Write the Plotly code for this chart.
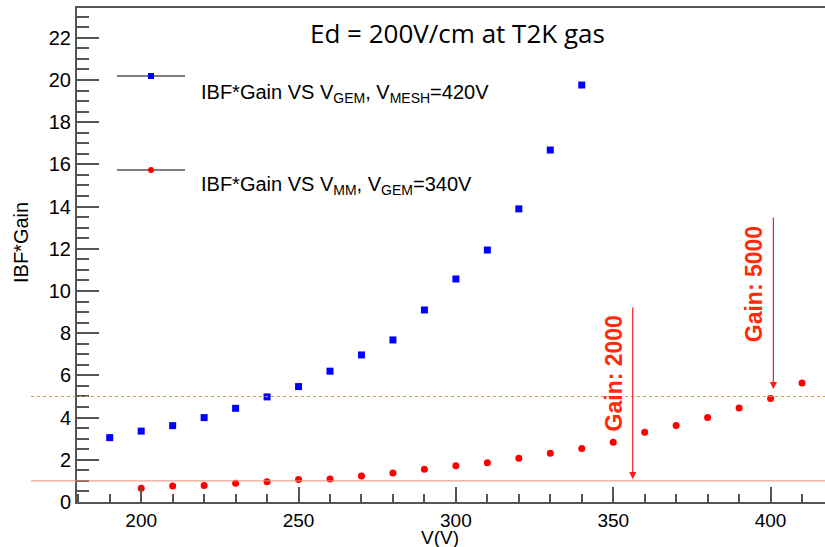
import plotly.graph_objects as go

# ---------------- data ----------------
v_gem = [190, 200, 210, 220, 230, 240, 250, 260, 270, 280, 290, 300, 310, 320, 330, 340]
ibf_gain_gem = [3.05, 3.36, 3.62, 4.00, 4.44, 4.98, 5.47, 6.20, 6.97, 7.68, 9.10, 10.57, 11.94, 13.89, 16.68, 19.76]

v_mm = [200, 210, 220, 230, 240, 250, 260, 270, 280, 290, 300, 310, 320, 330, 340, 350, 360, 370, 380, 390, 400, 410]
ibf_gain_mm = [0.65, 0.76, 0.78, 0.89, 0.96, 1.07, 1.09, 1.23, 1.37, 1.55, 1.72, 1.86, 2.07, 2.31, 2.53, 2.83, 3.30, 3.62, 4.01, 4.45, 4.90, 5.64]

ref_levels = [5, 1]            # horizontal reference lines
gain_arrows_x = [356.2, 400.9]  # V positions of gain markers
gain_labels = ["Gain: 2000", "Gain: 5000"]

x_range = [179.6, 417.3]
y_range = [0, 23.41]

FONT = "Liberation Sans, Arial, sans-serif"
AX = "#555555"
RED_TXT = "#FF2A0A"

fig = go.Figure()
fig.add_trace(go.Scatter(x=v_gem, y=ibf_gain_gem, mode="markers",
                         marker=dict(symbol="square", size=7, color="#0000FF"),
                         showlegend=False))
fig.add_trace(go.Scatter(x=v_mm, y=ibf_gain_mm, mode="markers",
                         marker=dict(symbol="circle", size=7, color="#FF0000"),
                         showlegend=False))

# plot area pixel helpers (for layout placement only)
L, T, B = 77, 8, 502
W = 825 - L
H = B - T
def px(x):
    return (x - L) / W
def py(y):
    return (B - y) / H

shapes = []
# reference lines (extend left beyond axis as in original)
shapes.append(dict(type="line", xref="paper", yref="y", x0=px(31), x1=1.0,
                   y0=ref_levels[0], y1=ref_levels[0],
                   line=dict(color="#C9A227", width=1, dash="dot")))
shapes.append(dict(type="line", xref="paper", yref="y", x0=px(31), x1=1.0,
                   y0=ref_levels[1], y1=ref_levels[1],
                   line=dict(color="#E8906E", width=1)))
# legend lines
for yy in (76, 170):
    shapes.append(dict(type="line", xref="paper", yref="paper", x0=px(117), x1=px(185),
                       y0=py(yy), y1=py(yy), line=dict(color="#555555", width=1.5)))
# legend symbols
shapes.append(dict(type="rect", xref="paper", yref="paper",
                   x0=px(148), x1=px(154), y0=py(79), y1=py(73),
                   fillcolor="#0000FF", line=dict(width=0)))
shapes.append(dict(type="circle", xref="paper", yref="paper",
                   x0=px(148), x1=px(154), y0=py(173), y1=py(167),
                   fillcolor="#FF0000", line=dict(width=0)))

annotations = []
# title
annotations.append(dict(text="Ed = 200V/cm at T2K gas", xref="paper", yref="paper",
                        x=px(457), y=py(33), showarrow=False,
                        font=dict(family="Open Sans, sans-serif", size=26, color="black"),
                        xanchor="center", yanchor="middle"))
# legend texts
annotations.append(dict(text="IBF*Gain VS V<sub>GEM</sub>, V<sub>MESH</sub>=420V",
                        xref="paper", yref="paper", x=px(199), y=py(93), showarrow=False,
                        xanchor="left", yanchor="middle",
                        font=dict(family=FONT, size=20, color="black")))
annotations.append(dict(text="IBF*Gain VS V<sub>MM</sub>, V<sub>GEM</sub>=340V",
                        xref="paper", yref="paper", x=px(199), y=py(185), showarrow=False,
                        xanchor="left", yanchor="middle",
                        font=dict(family=FONT, size=20, color="black")))
# axis titles
annotations.append(dict(text="IBF*Gain", xref="paper", yref="paper", x=px(21), y=py(243),
                        textangle=-90, showarrow=False, xanchor="center", yanchor="middle",
                        font=dict(family=FONT, size=20, color="black")))
annotations.append(dict(text="V(V)", xref="paper", yref="paper", x=px(440), y=py(537),
                        showarrow=False, xanchor="center", yanchor="middle",
                        font=dict(family=FONT, size=19, color="black")))
# gain arrows
arrow_spans = [(9.29, 1.08), (13.55, 5.35)]
text_pos = [(350.1, 6.07), (394.8, 10.33)]
for gx, (ytail, ytip), lab, (tx, ty) in zip(gain_arrows_x, arrow_spans, gain_labels, text_pos):
    annotations.append(dict(x=gx, y=ytip, ax=gx, ay=ytail, xref="x", yref="y",
                            axref="x", ayref="y", text="", showarrow=True,
                            arrowhead=2, arrowsize=1.2, arrowwidth=1.2,
                            arrowcolor="#FF1A1A"))
    annotations.append(dict(x=tx, y=ty, xref="x", yref="y", text="<b>" + lab + "</b>", textangle=-90,
                            showarrow=False, xanchor="center", yanchor="middle",
                            font=dict(family=FONT, size=23, color=RED_TXT)))

fig.update_layout(
    width=825, height=547,
    margin=dict(l=L, r=0, t=T, b=547 - B, pad=0),
    plot_bgcolor="white", paper_bgcolor="white",
    shapes=shapes, annotations=annotations,
    showlegend=False,
    font=dict(family=FONT, size=20, color="black"),
)
fig.update_xaxes(range=x_range, showgrid=False, zeroline=False,
                 showline=True, linecolor=AX, linewidth=2, mirror=True,
                 ticks="inside", ticklen=15, tickwidth=2, tickcolor=AX,
                 tick0=200, dtick=50,
                 minor=dict(ticks="inside", ticklen=8, tickwidth=1.5, tickcolor=AX, dtick=10, tick0=200),
                 tickfont=dict(family=FONT, size=19, color="black"))
fig.update_yaxes(range=y_range, showgrid=False, zeroline=False,
                 showline=True, linecolor=AX, linewidth=2,
                 ticks="inside", ticklen=22, tickwidth=2, tickcolor=AX,
                 tick0=0, dtick=2,
                 minor=dict(ticks="inside", ticklen=12, tickwidth=1.5, tickcolor=AX, dtick=0.5, tick0=0),
                 tickfont=dict(family=FONT, size=20, color="black"))

fig.write_html("out.html")
